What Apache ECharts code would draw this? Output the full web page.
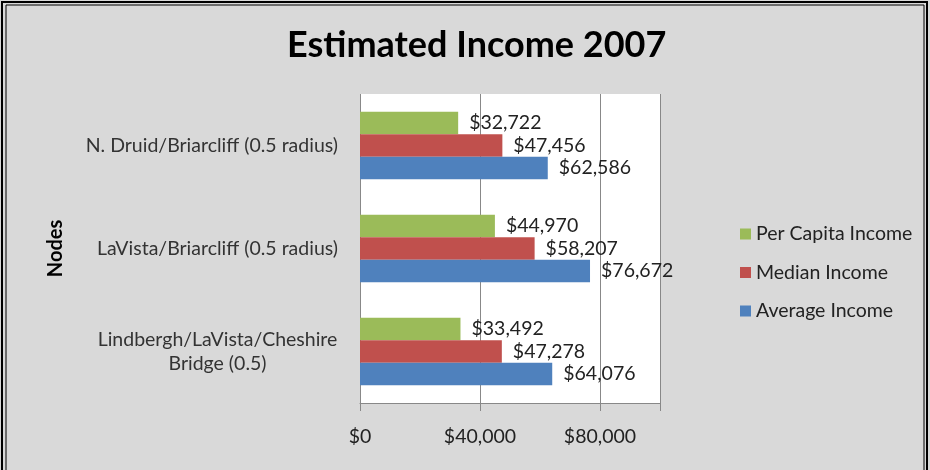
<!DOCTYPE html>
<html><head><meta charset="utf-8">
<script src="https://cdn.jsdelivr.net/npm/echarts@6/dist/echarts.min.js"></script>
<style>html,body{margin:0;padding:0;background:#fff}#c{width:930px;height:470px}</style>
</head><body><div id="c"></div>
<script>
var categories = ['N. Druid/Briarcliff (0.5 radius)', 'LaVista/Briarcliff (0.5 radius)', 'Lindbergh/LaVista/Cheshire\nBridge (0.5)'];
var seriesNames = ['Per Capita Income', 'Median Income', 'Average Income'];
var perCapita = [32722, 44970, 33492];
var median = [47456, 58207, 47278];
var average = [62586, 76672, 64076];
var xTicks = [0, 40000, 80000];
var xMax = 100000;

var colors = ['#9BBB59', '#C0504D', '#4F81BD'];
var font = 'Lato, "Open Sans", sans-serif';
var fs = 19.5;
function money(v){ return '$' + Math.round(v).toString().replace(/\B(?=(\d{3})+(?!\d))/g, ','); }

var chart = echarts.init(document.getElementById('c'));
var dataSets = [perCapita, median, average];
chart.setOption({
  backgroundColor: '#d9d9d9',
  animation: false,
  textStyle: {fontFamily: font},
  graphic: [
    {type: 'rect', shape: {x: 2, y: 2, width: 925, height: 480}, style: {fill: 'none', stroke: '#000', lineWidth: 2}, z: 100},
    {type: 'rect', shape: {x: 6, y: 5, width: 918, height: 480}, style: {fill: 'none', stroke: '#000', lineWidth: 1}, z: 100}
  ],
  title: {
    text: 'Estimated Income 2007', left: 282, top: 22,
    textStyle: {fontFamily: font, fontWeight: 'bold', fontSize: 36, color: '#000'}
  },
  legend: {
    orient: 'vertical', left: 735, top: 219, itemGap: 18.5,
    itemWidth: 11, itemHeight: 11, icon: 'rect', itemTextGap: 6,
    textStyle: {fontFamily: font, fontSize: fs, color: '#222'},
    data: seriesNames
  },
  grid: {left: 360, top: 94, width: 300, height: 309, show: true, backgroundColor: '#fff', borderWidth: 0},
  xAxis: {
    type: 'value', min: 0, max: xMax, interval: 40000,
    axisLine: {show: true, lineStyle: {color: '#888'}},
    axisTick: {show: true, length: 8, lineStyle: {color: '#888'}},
    splitLine: {show: true, lineStyle: {color: '#888', width: 1}},
    axisLabel: {margin: 24, fontSize: fs, color: '#222', fontFamily: font,
      formatter: function(v){ return xTicks.indexOf(v) >= 0 ? money(v) : ''; }}
  },
  yAxis: {
    type: 'category', inverse: true, data: categories,
    name: 'Nodes', nameLocation: 'middle', nameGap: 294, nameRotate: 90,
    nameTextStyle: {fontFamily: font, fontWeight: 'bold', fontSize: 20, color: '#000'},
    axisLine: {show: false}, axisTick: {show: false},
    axisLabel: {margin: 22, fontSize: fs, color: '#333', fontFamily: font, lineHeight: 24,
      formatter: function(v){
        var parts = v.split('\n');
        if (parts.length === 1) return v;
        return parts.map(function(p){ return '{c|' + p + '}'; }).join('\n');
      },
      rich: {c: {width: 241, align: 'center', fontSize: fs, color: '#333', fontFamily: font, lineHeight: 24}}
    }
  },
  series: seriesNames.map(function(n, i){
    return {
      name: n, type: 'bar', data: dataSets[i], barWidth: 22.5, barGap: '0%',
      itemStyle: {color: colors[i]},
      label: {show: true, position: 'right', distance: 11, fontSize: fs, color: '#222', fontFamily: font,
        formatter: function(p){ return money(p.value); }}
    };
  })
});
</script></body></html>
